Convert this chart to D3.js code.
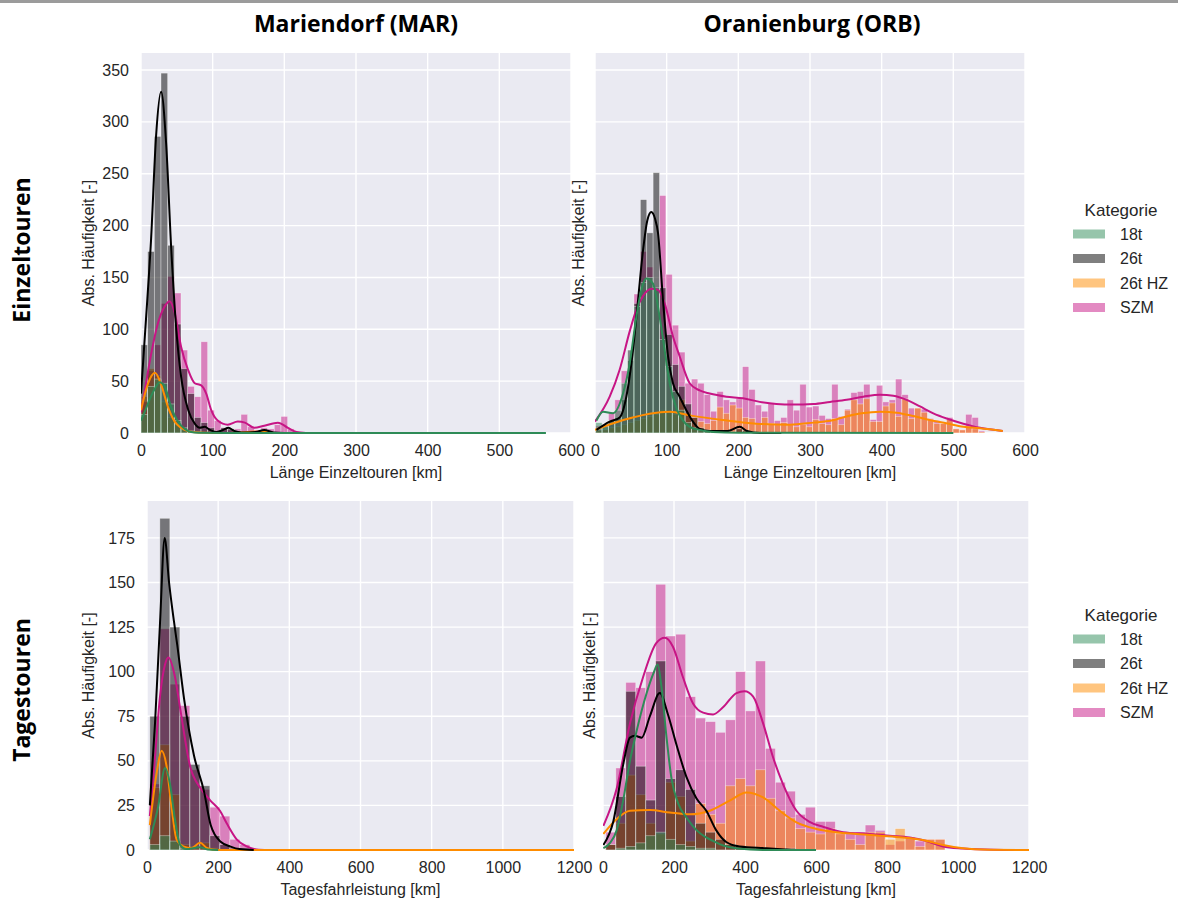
<!DOCTYPE html>
<html>
<head>
<meta charset="utf-8">
<script src="https://cdn.jsdelivr.net/npm/d3@7"></script>
<style>
  body { margin: 0; background: #fff; }
  svg { display: block; font-family: "Liberation Sans", Arial, sans-serif; }
</style>
</head>
<body>
<svg id="chart" width="1178" height="898"></svg>
<script>
// hue levels of the histograms
var categories = ['18t', '26t', '26t HZ', 'SZM'];
var catColors = ['#2e8b57', '#000000', '#ff8c00', '#c71585'];

var colTitles = ['Mariendorf (MAR)', 'Oranienburg (ORB)'];
var rowTitles = ['Einzeltouren', 'Tagestouren'];

// tick labels
var tourTicksX = [0, 100, 200, 300, 400, 500, 600];
var tourTicksY = [0, 50, 100, 150, 200, 250, 300, 350];
var dayTicksX = [0, 200, 400, 600, 800, 1000, 1200];
var dayTicksY = [0, 25, 50, 75, 100, 125, 150, 175];

// ---- Einzeltouren, Mariendorf: bins start 0 km, 9.3 km wide
var tourMarBin = [0, 9.3];
var tourMar18t = [18, 45, 52, 48, 28, 12, 5, 2, 1];
var tourMar26t = [85, 175, 286, 347, 181, 105, 62, 38, 15, 10, 5, 2, 5, 4, 2, 1, 1, 1, 3, 1];
var tourMar26tHZ = [35, 62, 55, 30, 15, 8, 3, 1, 0, 0, 0, 0, 0, 0, 0, 0, 0, 0, 1];
var tourMarSZM = [30, 60, 85, 125, 151, 135, 80, 45, 35, 88, 22, 12, 5, 3, 4, 18, 6, 3, 5, 4, 8, 16, 4, 1];

var kdeTourMar18t = [[0,12],[5,20],[10,29],[19.5,43],[26,49],[33,45],[42,25],[51.6,11],[61,4],[70,1],[80,0.3],[130,0],[565,0]];
var kdeTourMar26t = [[0,38],[7,110],[14,186],[21,286],[28,329],[35,280],[42,180],[49,102],[56,54],[66,22],[75,9],[82,5],[89,6],[96,3],[105,1],[115,3],[122,5],[130,2],[140,0.5],[160,1],[172,3],[185,0.5],[200,0]];
var kdeTourMar26tHZ = [[0,22],[10,48],[19.5,58],[28.4,46],[37.7,25],[47,11],[56,5],[65,2],[80,0.5],[120,0],[170,1.5],[185,0]];
var kdeTourMarSZM = [[0,20],[5,40],[14.4,77],[23.7,106],[33,122],[40,127],[47,116],[56,83],[65.6,61],[75,48],[84,46],[91,38],[98,22],[107,12],[121,8],[135,11],[145,10],[158,5],[172,7],[191,10],[205,5],[217,1],[230,0]];

// ---- Einzeltouren, Oranienburg: bins start 1 km, 8.9 km wide
var tourOrbBin = [1, 8.9];
var tourOrb18t = [10, 6, 12, 22, 48, 80, 122, 145, 150, 140, 90, 64, 40, 22, 10, 5, 3, 2, 1];
var tourOrb26t = [3, 8, 12, 15, 32, 70, 125, 225, 193, 251, 140, 95, 66, 45, 28, 15, 5, 3, 2, 1, 2, 1, 4, 2, 1];
var tourOrb26tHZ = [2, 3, 5, 6, 8, 10, 12, 14, 16, 18, 22, 20, 18, 32, 19, 15, 11, 9, 12, 25, 19, 27, 24, 15, 14, 9, 15, 9, 8, 10,
  8, 6, 8, 6, 13, 9, 8, 14, 8, 22, 32, 28, 33, 11, 11, 26, 29, 16, 33, 14, 24, 20, 13, 9, 9, 13, 4, 3, 6, 4, 1];
var tourOrbSZM = [7, 3, 20, 32, 60, 80, 134, 175, 160, 140, 229, 153, 104, 78, 48, 52, 48, 37, 21, 40, 32, 30, 33, 64, 42, 27, 21, 29,
  12, 15, 32, 22, 47, 25, 26, 17, 14, 47, 16, 23, 39, 40, 47, 13, 46, 30, 32, 52, 37, 24, 24, 23, 14, 12, 9, 15, 4, 3, 18, 15, 2];

var kdeTourOrb18t = [[2,12],[11.2,20.5],[25.1,19],[39.1,38],[48.4,67],[57.7,112],[64.7,138],[71.6,149],[80.9,144],[90.2,112],[97.2,80],[104.2,48],[113.5,24],[122.8,12],[132.1,6],[146,3],[164.7,1],[200,0.3],[500,0]];
var kdeTourOrb26t = [[2,3],[20.5,11],[34.4,15],[43.7,35],[53,80],[60,128],[67,176],[73,205],[78.6,213],[84,206],[87.9,193],[94.9,128],[101.9,74],[108.8,48],[118.1,35],[127.4,22],[136.7,11],[146,4],[160,2],[185,2],[202,6],[212,2],[230,0],[260,0]];
var kdeTourOrb26tHZ = [[0,3],[39.5,12.5],[86,19.6],[104.6,20.6],[132,17],[178.6,12.5],[225,9],[272,8],[304.7,10],[330,12],[351,16],[372,19],[397.7,20.6],[421,19.6],[444,16.4],[467,12.5],[490,9.3],[514,6],[537,4.5],[569,2]];
var kdeTourOrbSZM = [[0,11],[20.5,35],[34.4,61],[48.4,98],[57.7,119],[67,132],[78.6,139],[87.9,138],[97.2,125],[108.8,93],[118.1,74],[132.1,48],[146,41],[160,38],[183.3,35],[206.5,33.5],[229.8,30],[253,28],[276,27.5],[304.6,28],[327.9,30],[351.1,32],[374.4,35],[397.7,37],[416.3,36],[434.9,32],[453.5,25.6],[472.1,19],[490.7,14],[514,9],[537.2,5],[568.9,2]];

// ---- Tagestouren, Mariendorf: bins start 8 km, 28.1 km wide
var dayMarBin = [8, 28.1];
var dayMar18t = [3, 8, 5, 1];
var dayMar26t = [75, 186, 125, 75, 48, 36, 8, 3, 1, 1];
var dayMar26tHZ = [35, 59, 31, 3, 2, 4, 1];
var dayMarSZM = [37, 124, 93, 81, 45, 34, 24, 19, 6, 3];

var kdeDayMar18t = [[8,6],[31,24],[50.6,46],[64.6,37],[78.7,17],[92.7,3],[110,0.5],[149,1.5],[170,0.3],[200,0]];
var kdeDayMar26t = [[8,25],[22.5,71],[36.5,127],[49.7,175],[62,150],[75.9,128],[85,115],[104,85],[132,53],[160,33],[179,14],[207,4.6],[235,1.9],[260,0.5],[300,0]];
var kdeDayMar26tHZ = [[8,14],[27,43],[41,55.6],[55,47],[69,24],[83,6],[102,2],[125,1],[149,4],[170,1],[200,0],[1200,0]];
var kdeDayMarSZM = [[8,19],[22.5,52],[36.5,86],[50.6,104],[60,108],[78.7,97],[92.7,80],[121,47],[149,35],[177,28],[205,22],[224,15],[252,6],[280,2],[308,0.3],[340,0]];

// ---- Tagestouren, Oranienburg: bins start 8 km, 28.1 km wide
var dayOrbBin = [8, 28.1];
var dayOrb18t = [0, 1, 2, 4, 8, 10, 6, 3, 2, 1, 1];
var dayOrb26t = [3, 30, 89, 47, 28, 106, 40, 45, 34, 15, 10, 6, 3, 2, 1, 1, 0, 0, 1];
var dayOrb26tHZ = [3, 15, 42, 31, 15, 9, 38, 30, 5, 26, 20, 15, 36, 40, 36, 45, 29, 22, 18, 12, 10, 9, 12, 10, 6, 3, 10, 10, 6, 12, 7, 2, 6, 6];
var dayOrbSZM = [10, 46, 94, 91, 100, 149, 120, 121, 86, 74, 72, 66, 73, 100, 78, 106, 57, 38, 33, 20, 24, 16, 16, 9, 10, 10, 14, 11, 3, 5, 7, 5, 6, 6];

var kdeDayOrb18t = [[1,1],[20,4],[38.5,11],[57,28],[76,50],[95,67],[123,88],[142,99],[154,104],[165,91],[179,63],[193,40],[212,26],[236,18],[264,11],[287,7.5],[311,5],[339,2.5],[380,0.8],[450,0],[600,0]];
var kdeDayOrb26t = [[1,2.8],[29,16],[57,48],[76,63],[90,64],[109,63],[132,75],[160,88],[183,76],[207,59],[235,41],[263,29],[291,22],[319,11],[347,4.5],[385,2],[460,1],[530,0]];
var kdeDayOrb26tHZ = [[1,9],[38,17.3],[76,22],[132,22.4],[188,21],[245,20],[301,22],[357,27.7],[404,32.3],[451,29.5],[498,22],[545,15.5],[601,11.8],[657,10],[714,9],[780,8],[845,7],[901,5.6],[958,2.8],[1014,1],[1089,0.2],[1200,0]];
var kdeDayOrbSZM = [[1,13.5],[38,34],[76,71],[113,97],[150,116],[174,119],[197,114],[225,97],[254,82],[282,77],[310,76],[338,80],[376,88],[399,89],[423,86],[451,71],[479,52],[507,37],[545,22],[582,15.8],[620,13],[676,10],[751,9],[807,8],[864,7],[911,5],[958,2],[1014,0.8],[1100,0.1],[1200,0]];

// panel table built from the arrays above
var panels = [
  { id: 'p0', bin: tourMarBin, counts: [tourMar18t, tourMar26t, tourMar26tHZ, tourMarSZM],
    kde: [kdeTourMar18t, kdeTourMar26t, kdeTourMar26tHZ, kdeTourMarSZM],
    left: 141, right: 571, top: 53, bottom: 433, xMax: 600, yMax: 366.4,
    xTicks: tourTicksX, yTicks: tourTicksY, yLabels: true, xLabel: 'Länge Einzeltouren [km]', yLabelX: 88 },
  { id: 'p1', bin: tourOrbBin, counts: [tourOrb18t, tourOrb26t, tourOrb26tHZ, tourOrbSZM],
    kde: [kdeTourOrb18t, kdeTourOrb26t, kdeTourOrb26tHZ, kdeTourOrbSZM],
    left: 595, right: 1025, top: 53, bottom: 433, xMax: 600, yMax: 366.4,
    xTicks: tourTicksX, yTicks: tourTicksY, yLabels: false, xLabel: 'Länge Einzeltouren [km]', yLabelX: 578 },
  { id: 'p2', bin: dayMarBin, counts: [dayMar18t, dayMar26t, dayMar26tHZ, dayMarSZM],
    kde: [kdeDayMar18t, kdeDayMar26t, kdeDayMar26tHZ, kdeDayMarSZM],
    left: 147, right: 574, top: 501, bottom: 850, xMax: 1200, yMax: 195.7,
    xTicks: dayTicksX, yTicks: dayTicksY, yLabels: true, xLabel: 'Tagesfahrleistung [km]', yLabelX: 88 },
  { id: 'p3', bin: dayOrbBin, counts: [dayOrb18t, dayOrb26t, dayOrb26tHZ, dayOrbSZM],
    kde: [kdeDayOrb18t, kdeDayOrb26t, kdeDayOrb26tHZ, kdeDayOrbSZM],
    left: 603, right: 1029, top: 501, bottom: 850, xMax: 1200, yMax: 195.7,
    xTicks: dayTicksX, yTicks: dayTicksY, yLabels: false, xLabel: 'Tagesfahrleistung [km]', yLabelX: 589 }
];

var svg = d3.select('#chart');
var textCol = '#262626';
var fmt = d3.format('d');

// thin grey frame line at the very top
svg.append('rect').attr('x', 0).attr('y', 0).attr('width', 1178).attr('height', 3).attr('fill', '#9b9b9b');

panels.forEach(function(p) {
  var x = d3.scaleLinear().domain([0, p.xMax]).range([p.left, p.right]);
  var y = d3.scaleLinear().domain([0, p.yMax]).range([p.bottom, p.top]);

  svg.append('clipPath').attr('id', 'clip-' + p.id)
    .append('rect')
    .attr('x', p.left).attr('y', p.top)
    .attr('width', p.right - p.left).attr('height', p.bottom - p.top + 1);

  svg.append('rect')
    .attr('x', p.left).attr('y', p.top)
    .attr('width', p.right - p.left).attr('height', p.bottom - p.top)
    .attr('fill', '#eaeaf2');

  var g = svg.append('g');

  // grid
  g.selectAll('.vgrid').data(p.xTicks).enter().append('line')
    .attr('x1', function(d) { return x(d); }).attr('x2', function(d) { return x(d); })
    .attr('y1', p.top).attr('y2', p.bottom)
    .attr('stroke', '#fff').attr('stroke-width', 1.4);
  g.selectAll('.hgrid').data(p.yTicks).enter().append('line')
    .attr('y1', function(d) { return y(d); }).attr('y2', function(d) { return y(d); })
    .attr('x1', p.left).attr('x2', p.right)
    .attr('stroke', '#fff').attr('stroke-width', 1.4);

  var plot = g.append('g').attr('clip-path', 'url(#clip-' + p.id + ')');

  // bars, last hue level first so that 18t ends up on top
  for (var k = categories.length - 1; k >= 0; k--) {
    var bins = p.counts[k].map(function(c, i) {
      return { x0: p.bin[0] + i * p.bin[1], x1: p.bin[0] + (i + 1) * p.bin[1], c: c };
    }).filter(function(d) { return d.c > 0; });
    plot.append('g').selectAll('rect').data(bins).enter().append('rect')
      .attr('x', function(d) { return x(d.x0); })
      .attr('width', function(d) { return x(d.x1) - x(d.x0); })
      .attr('y', function(d) { return y(d.c); })
      .attr('height', function(d) { return y(0) - y(d.c); })
      .attr('fill', catColors[k]).attr('fill-opacity', 0.5)
      .attr('stroke', '#fff').attr('stroke-opacity', 0.5).attr('stroke-width', 0.7);
  }

  var line = d3.line()
    .x(function(d) { return x(d[0]); })
    .y(function(d) { return y(d[1]); })
    .curve(d3.curveMonotoneX);

  for (var k2 = categories.length - 1; k2 >= 0; k2--) {
    plot.append('path').datum(p.kde[k2])
      .attr('d', line)
      .attr('fill', 'none')
      .attr('stroke', catColors[k2])
      .attr('stroke-width', 2);
  }

  // axes (text only, seaborn darkgrid has no spines)
  var xAxis = svg.append('g')
    .attr('transform', 'translate(0,' + (p.bottom + 12) + ')')
    .call(d3.axisBottom(x).tickValues(p.xTicks).tickFormat(fmt).tickSize(0).tickPadding(0));
  xAxis.select('.domain').remove();
  xAxis.selectAll('text').attr('font-size', 16).attr('fill', textCol)
    .attr('font-family', '"Liberation Sans", Arial, sans-serif');

  if (p.yLabels) {
    var yAxis = svg.append('g')
      .attr('transform', 'translate(' + (p.left - 12) + ',0)')
      .call(d3.axisLeft(y).tickValues(p.yTicks).tickFormat(fmt).tickSize(0).tickPadding(0));
    yAxis.select('.domain').remove();
    yAxis.selectAll('text').attr('font-size', 16).attr('fill', textCol)
      .attr('font-family', '"Liberation Sans", Arial, sans-serif');
  }

  svg.append('text')
    .attr('x', (p.left + p.right) / 2).attr('y', p.bottom + 45)
    .attr('text-anchor', 'middle').attr('font-size', 16).attr('fill', textCol)
    .text(p.xLabel);

  svg.append('text')
    .attr('transform', 'translate(' + p.yLabelX + ',' + ((p.top + p.bottom) / 2) + ') rotate(-90)')
    .attr('text-anchor', 'middle').attr('dy', '0.35em')
    .attr('font-size', 16).attr('fill', textCol)
    .text('Abs. Häufigkeit [-]');
});

// column and row titles
svg.selectAll('.coltitle').data(colTitles).enter().append('text')
  .attr('x', function(d, i) { return i === 0 ? 356 : 812; })
  .attr('y', 32)
  .attr('text-anchor', 'middle')
  .attr('font-family', '"Open Sans", sans-serif').attr('font-weight', 'bold')
  .attr('font-size', 23).attr('fill', '#000')
  .text(function(d) { return d; });

svg.selectAll('.rowtitle').data(rowTitles).enter().append('text')
  .attr('transform', function(d, i) { return 'translate(30,' + (i === 0 ? 250 : 690) + ') rotate(-90)'; })
  .attr('text-anchor', 'middle')
  .attr('font-family', '"Open Sans", sans-serif').attr('font-weight', 'bold')
  .attr('font-size', 23).attr('fill', '#000')
  .text(function(d) { return d; });

// legends
[210, 615].forEach(function(ty) {
  var lg = svg.append('g');
  lg.append('text').attr('x', 1121).attr('y', ty).attr('dy', '0.35em')
    .attr('text-anchor', 'middle').attr('font-size', 17).attr('fill', textCol)
    .text('Kategorie');
  var items = lg.selectAll('.item').data(categories).enter().append('g')
    .attr('transform', function(d, i) { return 'translate(0,' + (ty + 24 + i * 24.5) + ')'; });
  items.append('rect').attr('x', 1073).attr('y', -4.5).attr('width', 32).attr('height', 9)
    .attr('fill', function(d, i) { return catColors[i]; }).attr('fill-opacity', 0.5);
  items.append('text').attr('x', 1120).attr('y', 0).attr('dy', '0.35em')
    .attr('font-size', 16).attr('fill', textCol)
    .text(function(d) { return d; });
});
</script>
</body>
</html>
